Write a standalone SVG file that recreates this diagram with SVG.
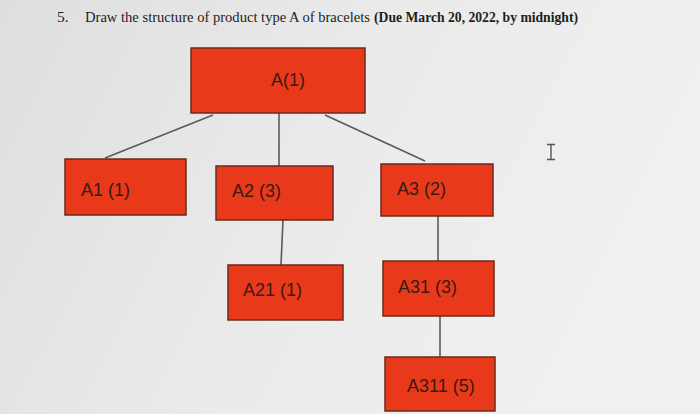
<svg xmlns="http://www.w3.org/2000/svg" width="700" height="414" viewBox="0 0 700 414">
<defs>
<linearGradient id="bg" x1="0" y1="0" x2="1" y2="0.3">
<stop offset="0" stop-color="#dedede"/>
<stop offset="0.5" stop-color="#e9eae9"/>
<stop offset="1" stop-color="#eff0ef"/>
</linearGradient>
<style>
.box{fill:#e8391b;stroke:#6e2a1c;stroke-width:1.5}
.lbl{font-family:"Liberation Sans",Arial,sans-serif;font-size:18px;fill:#3b1a12}
.edge{stroke:#5a5a5a;stroke-width:1.6;fill:none}
.title{font-family:"Liberation Serif","Times New Roman",serif;font-size:15.5px;fill:#1e1e1e}
</style>
</defs>
<rect x="0" y="0" width="700" height="414" fill="url(#bg)"/>
<text class="title" y="22"><tspan x="57">5.</tspan><tspan x="85" textLength="285" lengthAdjust="spacingAndGlyphs">Draw the structure of product type A of bracelets</tspan><tspan x="374" font-weight="bold" textLength="204" lengthAdjust="spacingAndGlyphs">(Due March 20, 2022, by midnight)</tspan></text>
<g id="connectors">
<line class="edge" x1="213" y1="115" x2="105" y2="158"/>
<line class="edge" x1="279" y1="113" x2="279" y2="166"/>
<line class="edge" x1="325" y1="115" x2="425" y2="161"/>
<line class="edge" x1="283" y1="220" x2="281" y2="265"/>
<line class="edge" x1="438" y1="216" x2="438" y2="261"/>
<line class="edge" x1="440" y1="316" x2="440" y2="357"/>
</g>
<g id="nA">
<rect class="box" x="191" y="48" width="174" height="65"/>
<text class="lbl" x="288" y="86" text-anchor="middle">A(1)</text>
</g>
<g id="nA1">
<rect class="box" x="65" y="159" width="121" height="56"/>
<text class="lbl" x="81" y="196">A1 (1)</text>
</g>
<g id="nA2">
<rect class="box" x="216" y="166" width="117" height="54"/>
<text class="lbl" x="232" y="197">A2 (3)</text>
</g>
<g id="nA3">
<rect class="box" x="381" y="164" width="112" height="52"/>
<text class="lbl" x="397" y="195">A3 (2)</text>
</g>
<g id="nA21">
<rect class="box" x="228" y="265" width="115" height="55"/>
<text class="lbl" x="243" y="296">A21 (1)</text>
</g>
<g id="nA31">
<rect class="box" x="383" y="261" width="111" height="55"/>
<text class="lbl" x="398" y="293">A31 (3)</text>
</g>
<g id="nA311">
<rect class="box" x="385" y="357" width="110" height="54"/>
<text class="lbl" x="407" y="392">A311 (5)</text>
</g>
<g id="cursor" stroke="#555" stroke-width="1.4" fill="none">
<path d="M547 144.5h8M551 144.5v15M547 159.5h8"/>
</g>
</svg>
